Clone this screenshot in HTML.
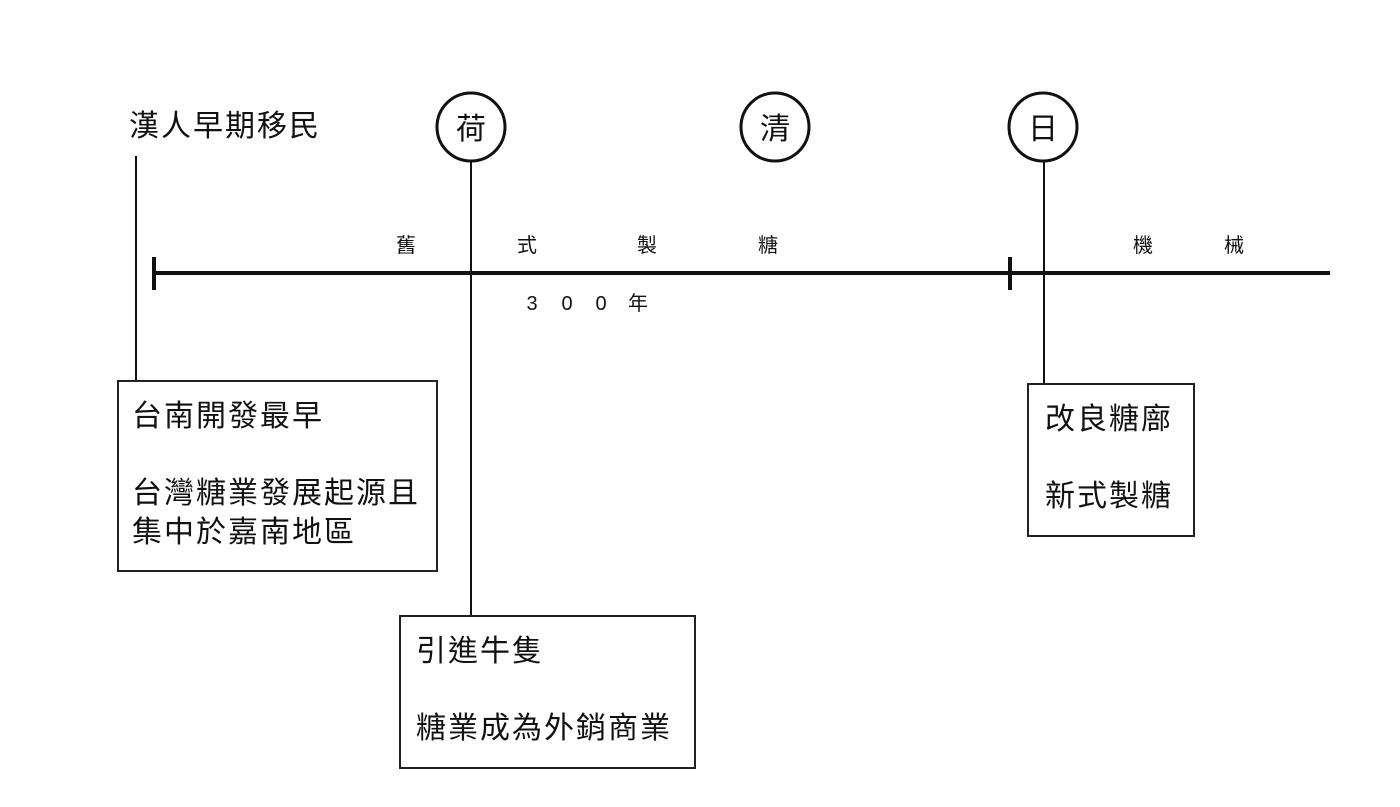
<!DOCTYPE html>
<html><head><meta charset="utf-8"><style>
html,body{margin:0;padding:0;background:#fff;}
body{width:1400px;height:807px;position:relative;overflow:hidden;font-family:"Liberation Sans","Noto Sans CJK TC",sans-serif;color:#111;}
.t{position:absolute;white-space:nowrap;line-height:1;font-size:30px;letter-spacing:2px;}
.box{position:absolute;border:2px solid #222;box-sizing:border-box;}
</style></head><body>
<svg width="1400" height="807" style="position:absolute;left:0;top:0">
<g stroke="#111" fill="none">
<line x1="154" y1="273" x2="1330" y2="273" stroke-width="4"/>
<line x1="154" y1="257" x2="154" y2="290" stroke-width="4"/>
<line x1="1010" y1="257" x2="1010" y2="290" stroke-width="4"/>
<line x1="136" y1="156" x2="136" y2="381" stroke-width="2"/>
<line x1="471" y1="162" x2="471" y2="616" stroke-width="2"/>
<line x1="1044" y1="162" x2="1044" y2="384" stroke-width="2"/>
<circle cx="471" cy="127" r="34" stroke-width="3"/>
<circle cx="775" cy="127" r="34" stroke-width="3"/>
<circle cx="1043" cy="127" r="34" stroke-width="3"/>
</g>
<g font-family="Liberation Sans, Noto Sans CJK TC, sans-serif" fill="#111" text-anchor="middle">
<text x="471" y="139" font-size="30">荷</text>
<text x="775" y="139" font-size="30">清</text>
<text x="1043" y="139" font-size="30">日</text>
<text x="406" y="252" font-size="20">舊</text>
<text x="527" y="252" font-size="20">式</text>
<text x="647" y="252" font-size="20">製</text>
<text x="768" y="252" font-size="20">糖</text>
<text x="1143" y="252" font-size="20">機</text>
<text x="1234" y="252" font-size="20">械</text>
<text x="532" y="310" font-size="20">3</text>
<text x="567" y="310" font-size="20">0</text>
<text x="601" y="310" font-size="20">0</text>
<text x="638" y="310" font-size="20">年</text>
</g>
</svg>
<div class="t" style="left:129px;top:112px;">漢人早期移民</div>
<div class="box" style="left:117px;top:380px;width:321px;height:192px;"></div>
<div class="t" style="left:132px;top:402px;">台南開發最早</div>
<div class="t" style="left:132px;top:479px;">台灣糖業發展起源且</div>
<div class="t" style="left:132px;top:518px;">集中於嘉南地區</div>
<div class="box" style="left:399px;top:615px;width:297px;height:154px;"></div>
<div class="t" style="left:416px;top:637px;">引進牛隻</div>
<div class="t" style="left:416px;top:714px;">糖業成為外銷商業</div>
<div class="box" style="left:1027px;top:383px;width:168px;height:154px;"></div>
<div class="t" style="left:1045px;top:405px;">改良糖廍</div>
<div class="t" style="left:1045px;top:482px;">新式製糖</div>
</body></html>
